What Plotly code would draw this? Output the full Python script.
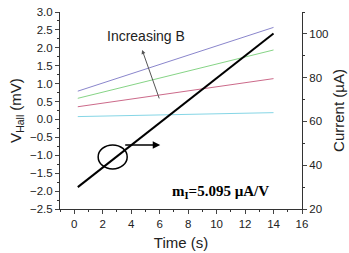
import plotly.graph_objects as go

time_s = [0.25, 14.0]
v_blue = [0.79, 2.57]
v_green = [0.59, 1.94]
v_red = [0.355, 1.14]
v_cyan = [0.08, 0.19]
current_ua = [30.0, 100.2]

fig = go.Figure()
line_colors = ["#8a86cc", "#86d486", "#cc6a8a", "#86d6e6"]
for ys, c in zip([v_blue, v_green, v_red, v_cyan], line_colors):
    fig.add_trace(go.Scatter(x=time_s, y=ys, mode="lines", line=dict(color=c, width=1), showlegend=False))
fig.add_trace(go.Scatter(x=time_s, y=current_ua, mode="lines", line=dict(color="black", width=2),
                         yaxis="y2", showlegend=False))

font_axis = dict(family="Liberation Sans, Arial", size=11.5, color="#222")
title_font = dict(family="Liberation Sans, Arial", size=15, color="#222")
fig.update_layout(
    width=349, height=253,
    margin=dict(l=60, r=47, t=12, b=44, autoexpand=False),
    plot_bgcolor="white", paper_bgcolor="white",
    xaxis=dict(range=[-1, 16], dtick=2, tick0=0, ticks="outside", ticklen=4, showline=True, automargin=False,
               linecolor="#333", linewidth=1, showgrid=False, zeroline=False, tickfont=font_axis,
               minor=dict(dtick=1, ticks="outside", ticklen=2, tickcolor="#333"),
               title=dict(text="Time (s)", font=title_font, standoff=8)),
    yaxis=dict(range=[-2.5, 3.0], dtick=0.5, tick0=0, tickformat=".1f", ticks="outside", ticklen=4, automargin=False,
               showline=True, linecolor="#333", linewidth=1, showgrid=False, zeroline=False, tickfont=font_axis,
               minor=dict(dtick=0.25, ticks="outside", ticklen=2, tickcolor="#333"),
               title=dict(text="V<sub>Hall</sub> (mV)", font=title_font, standoff=4)),
    yaxis2=dict(range=[20, 110], dtick=20, tick0=20, overlaying="y", side="right", ticks="outside", ticklen=4,
                automargin=False,
                showline=True, linecolor="#333", linewidth=1, showgrid=False, zeroline=False, tickfont=font_axis,
                minor=dict(dtick=10, ticks="outside", ticklen=2, tickcolor="#333"),
                title=dict(text="Current (µA)", font=title_font, standoff=6)),
)

fig.add_annotation(x=4.77, y=1.94, ax=6.18, ay=0.35, xref="x", yref="y", axref="x", ayref="y",
                   showarrow=True, arrowhead=2, arrowsize=0.8, arrowwidth=1, arrowcolor="#555", text=" ")
fig.add_annotation(x=5.05, y=2.33, xref="x", yref="y", text="Increasing B", showarrow=False,
                   font=dict(family="Liberation Sans, Arial", size=14, color="#222"))
fig.add_shape(type="circle", xref="x", yref="y", x0=1.68, x1=3.72, y0=-1.38, y1=-0.71,
              line=dict(color="black", width=1.5))
fig.add_annotation(x=6.04, y=-0.71, ax=3.37, ay=-0.71, xref="x", yref="y", axref="x", ayref="y",
                   showarrow=True, arrowhead=2, arrowsize=1, arrowwidth=1.5, arrowcolor="black", text=" ")
fig.add_annotation(x=10.25, y=-2.03, xref="x", yref="y", text="<b>m<sub>I</sub>=5.095 µA/V</b>", showarrow=False,
                   font=dict(family="Liberation Serif, Times New Roman", size=15, color="black"))

fig.write_html("out.html")
